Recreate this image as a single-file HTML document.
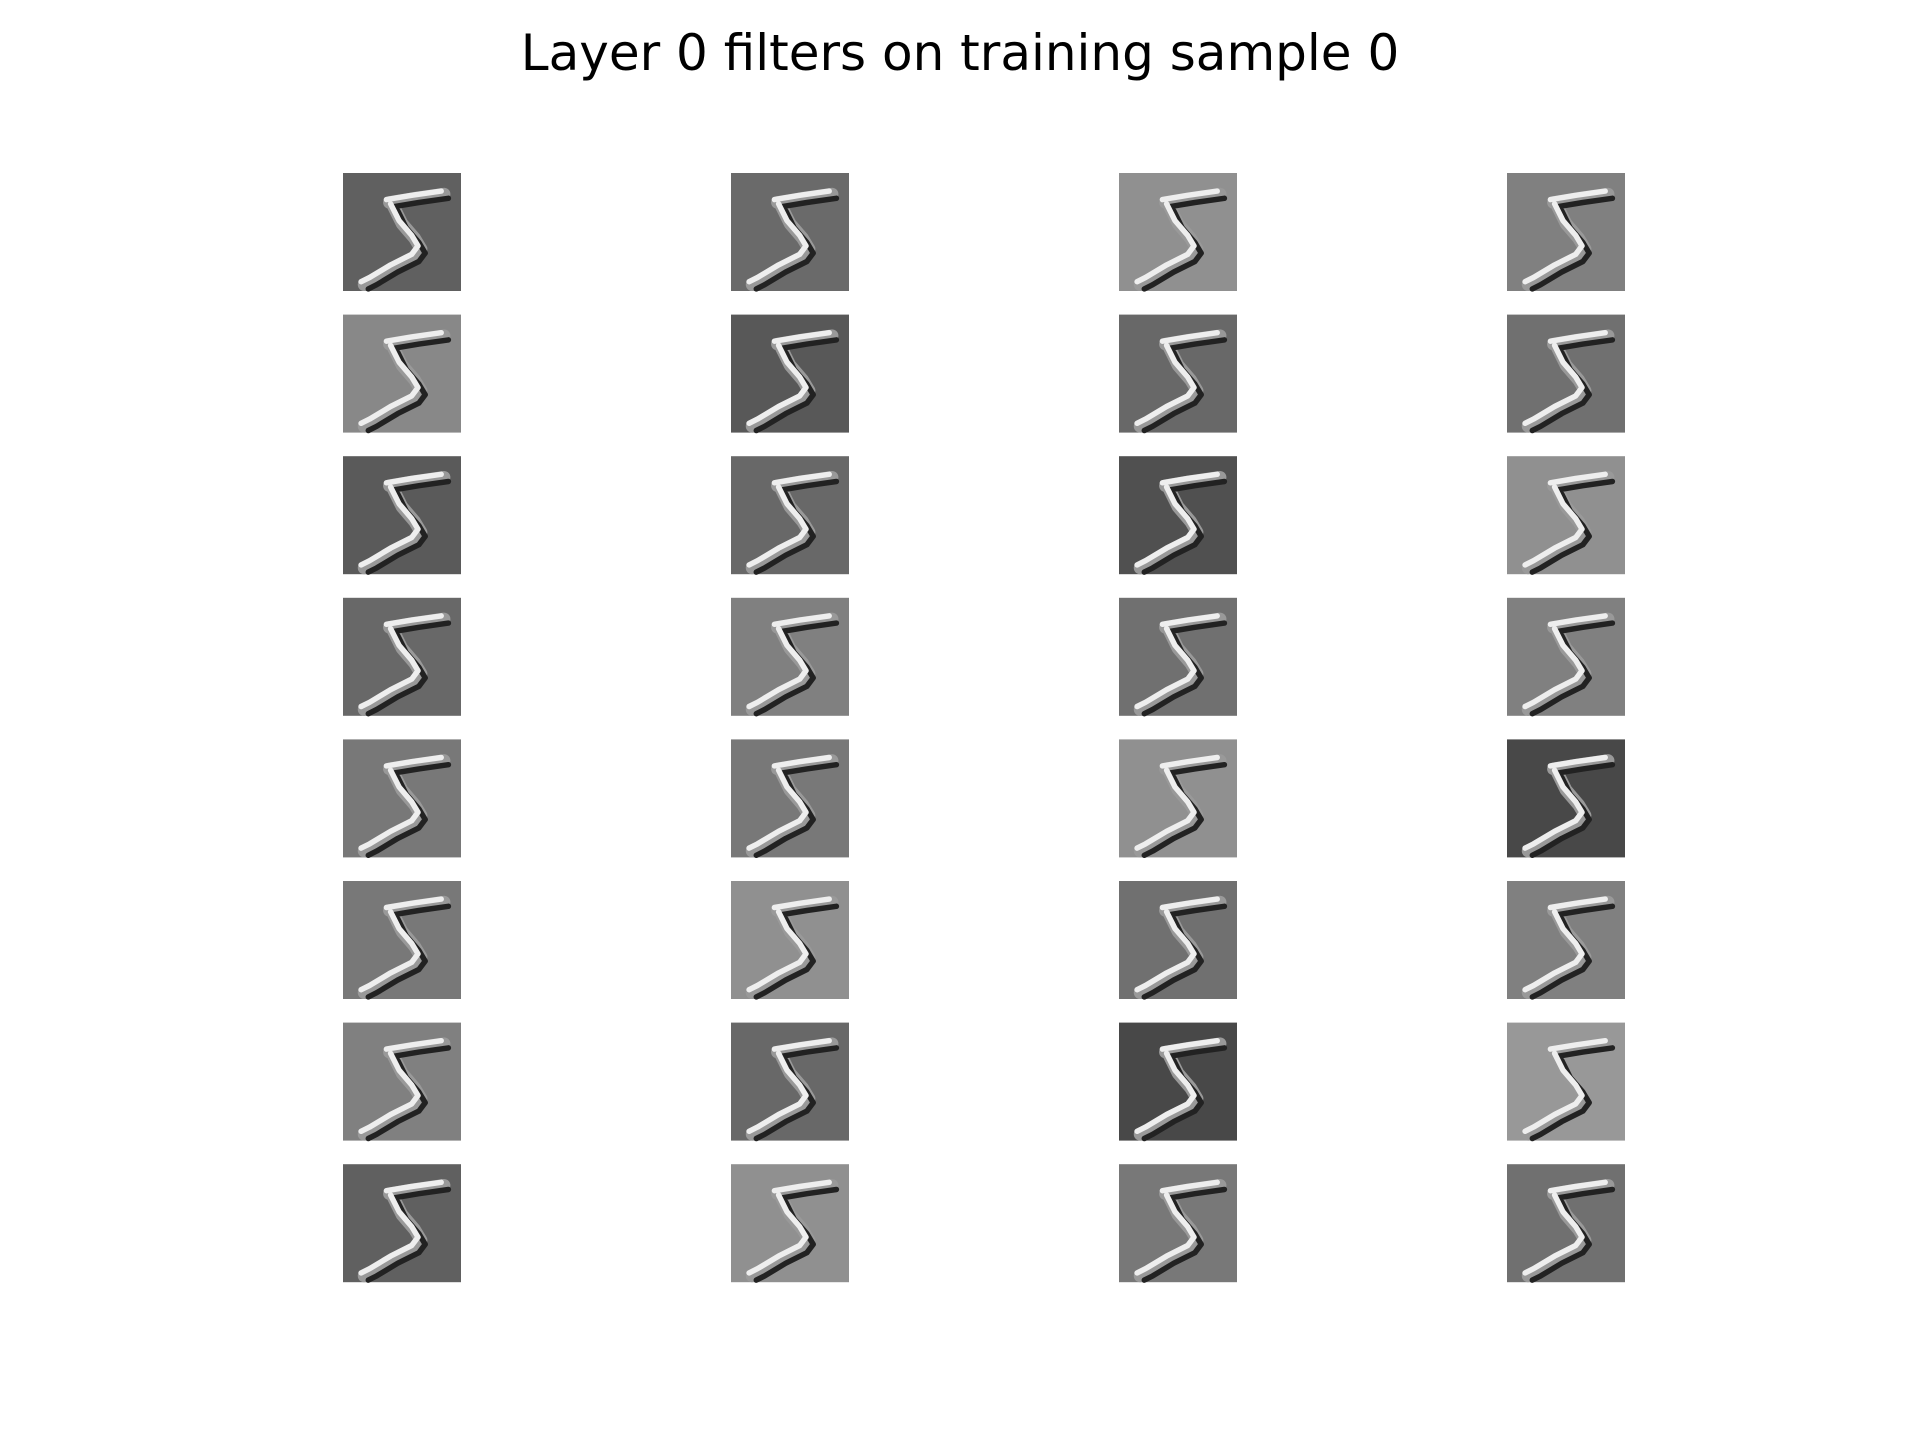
<!DOCTYPE html>
<html><head><meta charset="utf-8"><style>
body{margin:0;background:#fff;width:1920px;height:1440px;overflow:hidden;font-family:"DejaVu Sans","Liberation Sans",sans-serif}
#title{position:absolute;top:24px;left:0;width:1920px;text-align:center;font-size:50px;line-height:58px;color:#000}
svg{position:absolute;left:0;top:0}
</style></head><body>
<div id="title">Layer 0 filters on training sample 0</div>
<svg id="grid" width="1920" height="1440"></svg>
<script>
// background gray level of each filter output (row-major, 8 rows x 4 cols)
const bgLevels=[96,106,144,128,136,88,104,112,90,104,80,144,104,128,112,128,120,120,144,72,120,144,112,128,128,104,72,152,96,144,120,112];
const filterIndex=[...Array(32).keys()];
const svg=document.getElementById('grid');
const NS='http://www.w3.org/2000/svg';
const x0=343,y0=173,dx=388,dy=141.6,sz=118,u=sz/28;
const stroke=[[11,7],[17,6],[24,5]],stroke2=[[12,8],[14,12],[17,15.5],[18.5,18],[17,20],[12,22.5],[7,25.5],[5,26.5]];
function pts(a,ox,oy,sh){return a.map(p=>(ox+(p[0]+sh)*u).toFixed(1)+','+(oy+(p[1]+sh)*u).toFixed(1)).join(' ');}
filterIndex.forEach(i=>{
  const r=Math.floor(i/4),c=i%4,ox=x0+c*dx,oy=y0+r*dy,g=bgLevels[i];
  const grp=document.createElementNS(NS,'g');
  
  
  const rc=document.createElementNS(NS,'rect');
  rc.setAttribute('x',ox);rc.setAttribute('y',oy);rc.setAttribute('width',sz);rc.setAttribute('height',sz);
  rc.setAttribute('fill',`rgb(${g},${g},${g})`);
  grp.appendChild(rc);
  [[0,'#999',3],[1,'#222',1.3],[-0.7,'#eee',1.3]].forEach(([sh,col,w])=>{
    [stroke,stroke2].forEach(s=>{
      const pl=document.createElementNS(NS,'polyline');
      pl.setAttribute('points',pts(s,ox,oy,sh));
      pl.setAttribute('fill','none');pl.setAttribute('stroke',col);
      pl.setAttribute('stroke-width',u*w);pl.setAttribute('stroke-linejoin','round');pl.setAttribute('stroke-linecap','round');
      grp.appendChild(pl);
    });
  });
  svg.appendChild(grp);
});
</script>
</body></html>
